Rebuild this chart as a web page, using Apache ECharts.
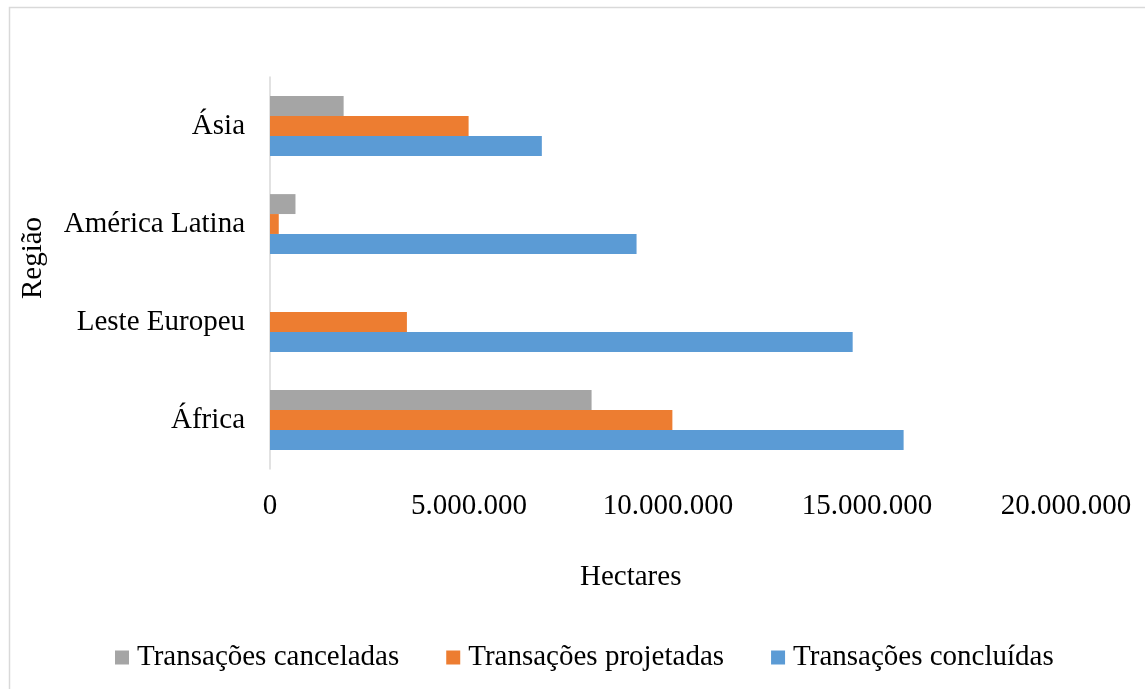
<!DOCTYPE html>
<html>
<head>
<meta charset="utf-8">
<script src="https://cdn.jsdelivr.net/npm/echarts@6/dist/echarts.min.js"></script>
<style>
html,body{margin:0;padding:0;background:#fff;}
#c{width:1145px;height:689px;}
</style>
</head>
<body>
<div id="c"></div>
<script>
const categories = ['África', 'Leste Europeu', 'América Latina', 'Ásia'];
const canceladas = [8080000, 0, 640000, 1850000];
const projetadas = [10110000, 3440000, 220000, 4990000];
const concluidas = [15920000, 14640000, 9210000, 6830000];
const seriesNames = ['Transações canceladas', 'Transações projetadas', 'Transações concluídas'];
const xTicks = [0, 5000000, 10000000, 15000000, 20000000];

const FONT = '"Liberation Serif", "Times New Roman", serif';
const chart = echarts.init(document.getElementById('c'));
function fmt(v){ return v === 0 ? '0' : String(v).replace(/\B(?=(\d{3})+(?!\d))/g, '.'); }

chart.setOption({
  animation: false,
  backgroundColor: '#fff',
  textStyle: { fontFamily: FONT },
  grid: { left: 270, right: 79, top: 77, bottom: 220, containLabel: false },
  legend: {
    data: seriesNames,
    bottom: 12,
    left: 110,
    itemWidth: 14, itemHeight: 14, itemGap: 47,
    icon: 'rect',
    textStyle: { fontFamily: FONT, fontSize: 29, color: '#000', padding: [0, 0, 0, 3] }
  },
  xAxis: {
    type: 'value', min: xTicks[0], max: xTicks[xTicks.length - 1], interval: 5000000,
    axisLine: { show: false }, axisTick: { show: false }, splitLine: { show: false },
    axisLabel: { formatter: fmt, fontFamily: FONT, fontSize: 29, color: '#000', margin: 23 }
  },
  yAxis: {
    type: 'category', data: categories,
    axisLine: { show: true, lineStyle: { color: '#d9d9d9', width: 1.5 } },
    axisTick: { show: false },
    axisLabel: { fontFamily: FONT, fontSize: 29, color: '#000', margin: 25 }
  },
  series: [
    { name: seriesNames[0], type: 'bar', data: canceladas, itemStyle: { color: '#A5A5A5' }, barGap: '0%', barCategoryGap: '39%' },
    { name: seriesNames[1], type: 'bar', data: projetadas, itemStyle: { color: '#ED7D31' }, barGap: '0%', barCategoryGap: '39%' },
    { name: seriesNames[2], type: 'bar', data: concluidas, itemStyle: { color: '#5B9BD5' }, barGap: '0%', barCategoryGap: '39%' }
  ],
  graphic: [
    { type: 'rect', left: 7, top: 5, shape: { width: 1150, height: 700 }, style: { fill: 'none', stroke: '#d9d9d9', lineWidth: 1.5 }, silent: true, z: -1 },
    { type: 'text', left: 580, top: 563, style: { text: 'Hectares', font: '29px ' + FONT, fill: '#000' } },
    { type: 'text', x: 33, y: 258, rotation: Math.PI / 2, style: { text: 'Região', font: '29px ' + FONT, fill: '#000', align: 'center', verticalAlign: 'middle' } }
  ]
});
</script>
</body>
</html>
